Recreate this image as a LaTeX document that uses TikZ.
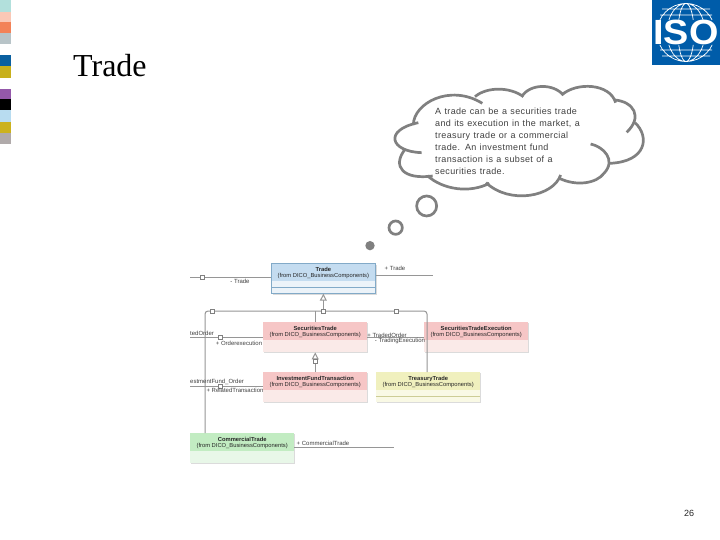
\documentclass[tikz,border=0pt]{standalone}
\usepackage{fontspec}
\setmainfont{Liberation Sans}
\newfontfamily\titlefont{Liberation Serif}
\newfontfamily\notefont[LetterSpace=4]{Liberation Sans}
\usetikzlibrary{arrows.meta,positioning}
\definecolor{strokegray}{RGB}{128,128,128}
\definecolor{linkgray}{RGB}{150,150,150}
\definecolor{isoblue}{RGB}{0,92,169}
\definecolor{blueHead}{RGB}{196,220,240}
\definecolor{blueBody}{RGB}{236,243,249}
\definecolor{blueEdge}{RGB}{130,170,200}
\definecolor{redHead}{RGB}{246,198,198}
\definecolor{redBody}{RGB}{250,234,232}
\definecolor{yellowHead}{RGB}{240,240,190}
\definecolor{yellowBody}{RGB}{249,249,229}
\definecolor{yellowEdge}{RGB}{205,205,150}
\definecolor{greenHead}{RGB}{194,236,194}
\definecolor{greenBody}{RGB}{232,247,232}
\newcommand{\sz}[1]{\fontsize{#1}{1.2\dimexpr #1pt\relax}\selectfont}
\begin{document}
\begin{tikzpicture}[x=1pt,y=-1pt,
classbox/.style n args={2}{fill=#2,preaction={fill=black!14,transform canvas={xshift=1.2pt,yshift=-1.2pt}},minimum width=104pt,minimum height=30pt,inner sep=0pt,anchor=north west,path picture={\fill[#1] (path picture bounding box.north west) rectangle ([yshift=-18pt]path picture bounding box.north east);}},
head/.style={font=\sz{5.8},text=black!85,align=center,inner sep=0pt},
role/.style={font=\sz{6},text=black!75,inner sep=0pt},
iconbox/.style={draw=strokegray,fill=white,line width=.5pt,minimum size=4pt,inner sep=0pt},
link/.style={draw=linkgray,line width=1pt},
gen/.style={link,-{Triangle[open,fill=white,length=7pt,width=7pt]}}]
\useasboundingbox (0,0) rectangle (720,540);
\fill[white] (0,0) rectangle (720,540);
% colour strip
\foreach \ya/\yb/\col in {0/12/{rgb,255:red,178;green,224;blue,220},12/22/{rgb,255:red,250;green,200;blue,182},22/33/{rgb,255:red,243;green,130;blue,88},33/44/{rgb,255:red,184;green,196;blue,200},55/66/{rgb,255:red,10;green,96;blue,160},66/78/{rgb,255:red,200;green,176;blue,28},89/99/{rgb,255:red,148;green,88;blue,170},99/110/{rgb,255:red,0;green,0;blue,0},110/122/{rgb,255:red,184;green,220;blue,240},122/133/{rgb,255:red,204;green,178;blue,30},133/144/{rgb,255:red,176;green,170;blue,170}}
  \fill[color=\col] (0,\ya) rectangle (11,\yb);
\node[anchor=base west,inner sep=0pt,font=\titlefont\sz{32}] (title) at (73,77) {Trade};
% logo
\fill[isoblue] (652,0) rectangle (720,65);
\begin{scope}
\clip (652,0) rectangle (720,20) (652,45) rectangle (720,65);
\draw[white,line width=.7pt] (686,32.5) circle[radius=29pt] (686,32.5) circle[x radius=19pt,y radius=29pt] (686,32.5) circle[x radius=8pt,y radius=29pt] (662,9)--(710,9) (660,15)--(712,15) (660,50)--(712,50) (662,56)--(710,56);
\end{scope}
\node[text=white,inner sep=0pt,xscale=1.08,font=\bfseries\sz{35}] (iso) at (686,32.5) {ISO};
% cloud
\begin{scope}[shift={(350,80)},x=.3333pt,y=-.3333pt,draw=strokegray,line width=2.7pt]
\draw (215,218) .. controls (120,215) and (100,150) .. (205,128);
\draw (165,208) .. controls (125,260) and (160,300) .. (248,288);
\draw (190,135) .. controls (190,70) and (300,10) .. (397,70);
\draw (375,50) .. controls (410,20) and (480,20) .. (520,50);
\draw (515,50) .. controls (540,10) and (610,10) .. (640,45);
\draw (635,45) .. controls (680,5) and (780,10) .. (797,68);
\draw (795,60) .. controls (850,65) and (880,110) .. (830,157);
\draw (855,128) .. controls (900,170) and (890,245) .. (780,250);
\draw (722,192) .. controls (760,200) and (800,240) .. (762,280) .. controls (740,310) and (680,320) .. (628,295);
\draw (632,285) .. controls (610,350) and (480,375) .. (408,308);
\draw (418,310) .. controls (360,340) and (280,330) .. (232,287);
\draw (230,378) circle[radius=30];
\draw (137,443) circle[radius=20];
\fill[strokegray] (60,497) circle[radius=14];
\end{scope}
\node[anchor=north west,inner sep=0pt,align=left,text=black!75,font=\notefont,text width=170pt] (note) at (435,107.5) {\fontsize{9}{12}\selectfont A trade can be a securities trade\\and its execution in the market, a\\treasury trade or a commercial\\trade. An investment fund\\transaction is a subset of a\\securities trade.};
% class boxes
\node[classbox={blueHead}{blueBody},draw=blueEdge,line width=.7pt] (trade) at (271,263) {};
\node[classbox={redHead}{redBody}] (sec) at (263,322) {};
\node[classbox={redHead}{redBody}] (exec) at (424,322) {};
\node[classbox={redHead}{redBody}] (inv) at (263,372) {};
\node[classbox={yellowHead}{yellowBody}] (treas) at (376,372) {};
\node[classbox={greenHead}{greenBody}] (comm) at (190,433) {};
\draw[blueEdge,line width=.5pt] ([yshift=-24pt]trade.north west)--([yshift=-24pt]trade.north east);
\draw[yellowEdge,line width=.5pt] ([yshift=-24pt]treas.north west)--([yshift=-24pt]treas.north east);
\node[head] at ([yshift=-10pt]trade.north) {\textbf{Trade}\\(from DICO\_BusinessComponents)};
\node[head] at ([yshift=-10pt]sec.north) {\textbf{SecuritiesTrade}\\(from DICO\_BusinessComponents)};
\node[head] at ([yshift=-10pt]exec.north) {\textbf{SecuritiesTradeExecution}\\(from DICO\_BusinessComponents)};
\node[head] at ([yshift=-10pt]inv.north) {\textbf{InvestmentFundTransaction}\\(from DICO\_BusinessComponents)};
\node[head] at ([yshift=-10pt]treas.north) {\textbf{TreasuryTrade}\\(from DICO\_BusinessComponents)};
\node[head] at ([yshift=-10pt]comm.north) {\textbf{CommercialTrade}\\(from DICO\_BusinessComponents)};
% free ends
\coordinate (tradeL) at (190,277.5); \coordinate (tradeR) at (433,275.5);
\coordinate (secL) at (190,337.5); \coordinate (invL) at (190,386.5); \coordinate (commR) at (394,447.5);
\coordinate (treeL) at (205,311); \coordinate (treeR) at (427,311);
\draw[link] (tradeL)--(trade.west|-tradeL); \draw[link] (trade.east|-tradeR)--(tradeR);
\draw[link] (secL)--(sec.west|-secL); \draw[link] (invL)--(inv.west|-invL);
\draw[link] (comm.east|-commR)--(commR);
\draw[link] (sec.east|-secL)--(exec.west|-secL);
\draw[link,rounded corners=3pt] (treeL|-comm.north)--(treeL)--(treeR)--(treeR|-treas.north);
\draw[link] (sec.north)--(sec.north|-treeL);
\draw[gen] (trade.south|-treeL)--(trade.south);
\draw[gen] (inv.north)--(sec.south);
% small markers
\foreach \nm/\px/\py in {a/202/277,b/212/311,c/323/311,d/396/311,e/220/337,f/220/386,g/315/361}
  \node[iconbox] (icon\nm) at (\px,\py) {};
% role names
\node[role] (r1) at (240,281) {- Trade};
\node[role] (r2) at (395,268) {+ Trade};
\node[role,anchor=west] (r3) at (190,333) {tedOrder};
\node[role] (r4) at (239,343) {+ Orderexecution};
\node[role,anchor=west] (r5) at (190,382) {estmentFund\_Order};
\node[role] (r6) at (235,390) {+ RelatedTransaction};
\node[role] (r7) at (323,443) {+ CommercialTrade};
\node[role] (r8) at (387,335) {+ TradedOrder};
\node[role] (r9) at (400,341) {- TradingExecution};
\node[inner sep=0pt,font=\sz{9},text=black!85] (page) at (689,513) {26};
\end{tikzpicture}
\end{document}
